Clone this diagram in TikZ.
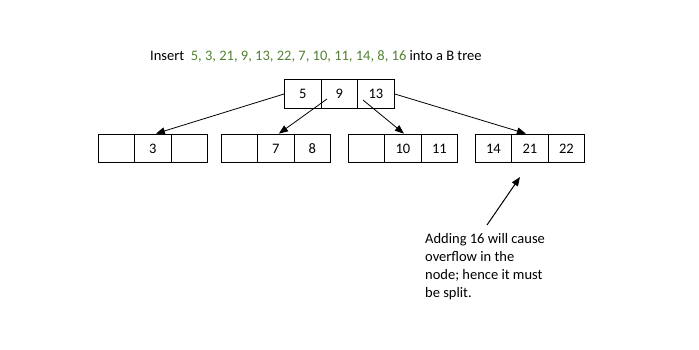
\documentclass[tikz,border=0pt]{standalone}
\usepackage{fontspec}
\setmainfont{Carlito}
\usetikzlibrary{arrows.meta}
\definecolor{tgreen}{RGB}{84,130,53}
\begin{document}
\begin{tikzpicture}[x=1pt,y=-1pt,
  cell/.style={draw=black,line width=1.3pt,minimum width=36.5pt,minimum height=28.5pt,inner sep=0pt,anchor=west,font=\fontsize{14.5}{16}\selectfont},
  link/.style={line width=0.8pt,-{Triangle[length=9pt,width=7pt]}},
  txt/.style={font=\fontsize{14.5}{18}\selectfont}]
\useasboundingbox (0,0) rectangle (699,349);
\node[txt,anchor=west,inner sep=0pt] (title) at (150,56) {Insert\ \ \textcolor{tgreen}{5, 3, 21, 9, 13, 22, 7, 10, 11, 14, 8, 16} into a B tree};
% root
\node[cell] (r1) at (284,94) {5};
\node[cell] (r2) at (320.5,94) {9};
\node[cell] (r3) at (357,94) {13};
% leaf 1
\node[cell] (a1) at (97.5,148.5) {};
\node[cell] (a2) at (134,148.5) {3};
\node[cell] (a3) at (170.5,148.5) {};
% leaf 2
\node[cell] (b1) at (220.5,148.5) {};
\node[cell] (b2) at (257,148.5) {7};
\node[cell] (b3) at (293.5,148.5) {8};
% leaf 3
\node[cell] (c1) at (347.5,148.5) {};
\node[cell] (c2) at (384,148.5) {10};
\node[cell] (c3) at (420.5,148.5) {11};
% leaf 4
\node[cell] (d1) at (474.5,148.5) {14};
\node[cell] (d2) at (511,148.5) {21};
\node[cell] (d3) at (547.5,148.5) {22};
% links
\coordinate (s2) at (327,99);
\coordinate (s3) at (363,100);
\draw[link] (r1.west) -- ([xshift=3pt]a2.north);
\draw[link] (s2) -- ([xshift=3pt]b2.north);
\draw[link] (s3) -- ([xshift=1pt]c2.north);
\draw[link] (r3.east) -- ([xshift=-4pt]d2.north);
% note
\node[txt,anchor=north west,align=left,inner sep=0pt] (note) at (425,233) {Adding 16 will cause\\overflow in the\\node; hence it must\\be split.};
\coordinate (nt) at (487,225);
\coordinate (nh) at (520,177);
\draw[link,line width=1pt] (nt) -- (nh);
\end{tikzpicture}
\end{document}
